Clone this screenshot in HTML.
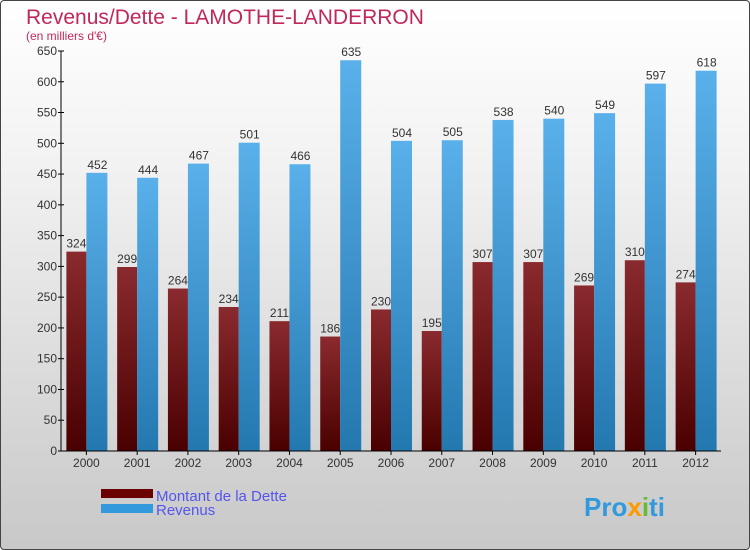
<!DOCTYPE html>
<html><head><meta charset="utf-8"><style>
body{margin:0;}
#c{width:748px;height:548px;border:1px solid #444;border-radius:4px;position:relative;overflow:hidden;background:linear-gradient(#ffffff,#f2f2f2 30%,#c8c8c8);font-family:"Liberation Sans",sans-serif;}
</style></head><body>
<div id="c">
<svg id="s" width="748" height="548" style="position:absolute;left:0;top:0">
<defs>
<linearGradient id="gd" x1="0" y1="0" x2="0" y2="1"><stop offset="0" stop-color="#8a2a2e"/><stop offset="1" stop-color="#4a0000"/></linearGradient>
<linearGradient id="gr" x1="0" y1="0" x2="0" y2="1"><stop offset="0" stop-color="#5ab0ea"/><stop offset="1" stop-color="#2478b0"/></linearGradient>
</defs>
<text x="25" y="23" font-size="21" fill="#c0285a">Revenus/Dette - LAMOTHE-LANDERRON</text>
<text x="25" y="39" font-size="12" fill="#c0285a">(en milliers d'€)</text>
<g id="g"></g>
<rect x="100" y="488" width="52" height="9" fill="#6a0000"/>
<rect x="100" y="503" width="52" height="9" fill="#3399dd"/>
<text x="155" y="500" font-size="15" fill="#5555ee">Montant de la Dette</text>
<text x="155" y="514" font-size="15" fill="#5555ee">Revenus</text>
<text x="583" y="515" font-size="26" font-weight="bold"><tspan fill="#3399dd">Pro</tspan><tspan fill="#ff9900">x</tspan><tspan fill="#66bb33">i</tspan><tspan fill="#3399dd">ti</tspan></text>
</svg>
</div>
<script>
const years=["2000","2001","2002","2003","2004","2005","2006","2007","2008","2009","2010","2011","2012"];
const dette=[324,299,264,234,211,186,230,195,307,307,269,310,274];
const revenus=[452,444,467,501,466,635,504,505,538,540,549,597,618];
const yTicks=[0,50,100,150,200,250,300,350,400,450,500,550,600,650];
const NS="http://www.w3.org/2000/svg";
const g=document.getElementById('g');
const x0=60,x1=720,yb=450,yt=50,ymax=650;
const step=(x1-x0)/years.length;
const Y=v=>yb-(v/ymax)*(yb-yt);
const cx=i=>x0+step*(i+0.5);
function el(t,a){const e=document.createElementNS(NS,t);for(const k in a)e.setAttribute(k,a[k]);g.appendChild(e);return e;}
years.forEach((yr,i)=>{
 const c=cx(i);
 let r=el('rect',{x:c-20,y:Y(dette[i]),width:20,height:yb-Y(dette[i]),fill:'url(#gd)'});
 
 
 r=el('rect',{x:c,y:Y(revenus[i]),width:21,height:yb-Y(revenus[i]),fill:'url(#gr)'});
 
 
 let t=el('text',{x:c-10,y:Y(dette[i])-4,'font-size':12,fill:'#333','text-anchor':'middle'});t.textContent=dette[i];
 
 
 t=el('text',{x:c+11,y:Y(revenus[i])-4,'font-size':12,fill:'#333','text-anchor':'middle'});t.textContent=revenus[i];
 
 
 el('line',{x1:c,x2:c,y1:yb,y2:yb+4,stroke:'#000'});
 t=el('text',{x:c,y:yb+16,'font-size':12,fill:'#333','text-anchor':'middle'});t.textContent=yr;
 
 
});
yTicks.forEach(v=>{
 el('line',{x1:x0-3,x2:x0+3,y1:Y(v),y2:Y(v),stroke:'#000'});
 const t=el('text',{x:x0-4,y:Y(v)+4,'font-size':12,fill:'#333','text-anchor':'end'});t.textContent=v;
 
 
});
let a=el('line',{x1:x0,x2:x0,y1:yt,y2:yb,stroke:'#000'});


a=el('line',{x1:x0,x2:x1,y1:yb,y2:yb,stroke:'#000'});


</script>
</body></html>
